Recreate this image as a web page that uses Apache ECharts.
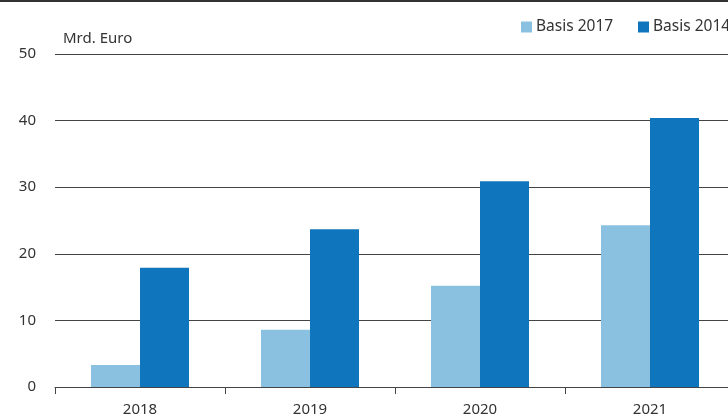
<!DOCTYPE html>
<html><head><meta charset="utf-8">
<script src="https://cdn.jsdelivr.net/npm/echarts@6/dist/echarts.min.js"></script>
<style>html,body{margin:0;padding:0;background:#fff}#c{width:728px;height:416px}</style>
</head><body><div id="c"></div>
<script>
const categories = ['2018', '2019', '2020', '2021'];
const basis2017 = [3.3, 8.6, 15.2, 24.3];
const basis2014 = [17.9, 23.7, 30.9, 40.4];
const yTicks = [0, 10, 20, 30, 40, 50];

const font = 'Noto Sans';
const legendBase = {
  top: 14, itemWidth: 11, itemHeight: 11, icon: 'rect',
  textStyle: {fontFamily: font, fontSize: 15.5, color: '#333', padding: [0, 0, 0, -1]}
};
const chart = echarts.init(document.getElementById('c'), null, {renderer: 'canvas'});
chart.setOption({
  animation: false,
  backgroundColor: '#fff',
  textStyle: {fontFamily: font},
  grid: {left: 55, width: 680, top: 54, height: 333, containLabel: false, outerBoundsMode: 'none'},
  legend: [
    Object.assign({}, legendBase, {left: 516, data: ['Basis 2017']}),
    Object.assign({}, legendBase, {left: 633, data: ['Basis 2014']})
  ],
  graphic: [
    {type: 'rect', left: 0, top: 0, shape: {width: 728, height: 2}, style: {fill: '#333'}},
    {type: 'text', left: 63, top: 31, style: {text: 'Mrd. Euro', font: '15px "Noto Sans"', fill: '#333'}}
  ],
  xAxis: {
    type: 'category', data: categories,
    axisLine: {lineStyle: {color: '#444', width: 1}},
    axisTick: {show: true, length: 7, lineStyle: {color: '#444'}},
    axisLabel: {fontFamily: font, fontSize: 15, color: '#333', margin: 15}
  },
  yAxis: {
    type: 'value', min: yTicks[0], max: yTicks[yTicks.length - 1], interval: 10,
    axisLine: {show: false}, axisTick: {show: false},
    splitLine: {lineStyle: {color: '#444', width: 1}},
    axisLabel: {fontFamily: font, fontSize: 15, color: '#333', margin: 19}
  },
  series: [
    {name: 'Basis 2017', type: 'bar', data: basis2017, barWidth: 49, barGap: '0%',
     itemStyle: {color: '#8bc1e0'}},
    {name: 'Basis 2014', type: 'bar', data: basis2014, barWidth: 49, barGap: '0%',
     itemStyle: {color: '#0f76bd'}}
  ]
});
</script></body></html>
